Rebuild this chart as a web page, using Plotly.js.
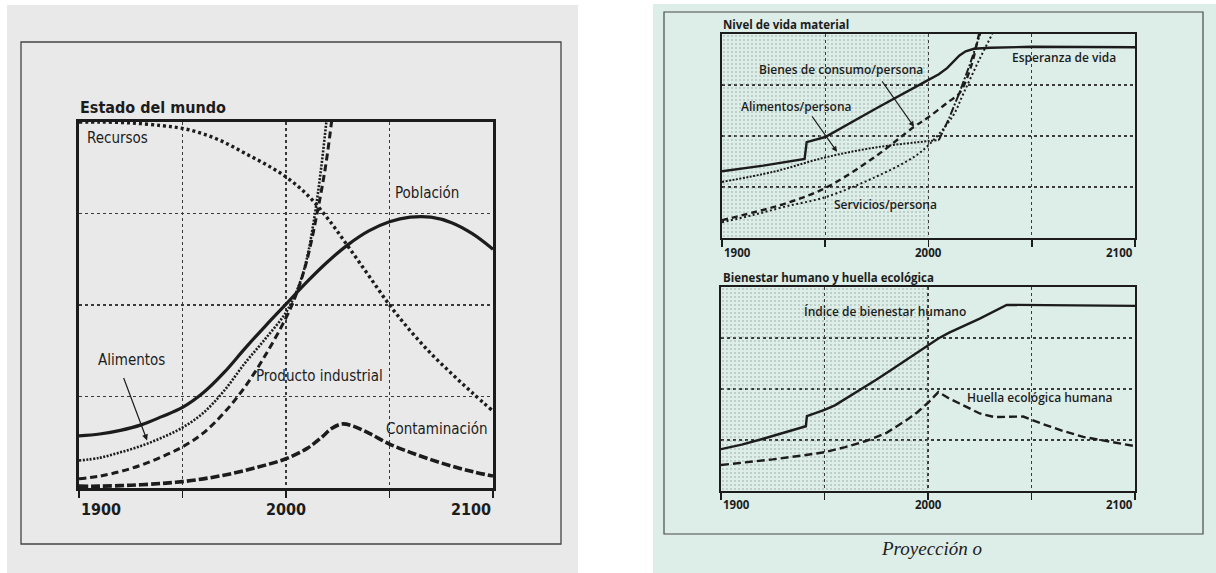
<!DOCTYPE html>
<html>
<head>
<meta charset="utf-8">
<script src="https://cdn.plot.ly/plotly-3.0.1.min.js"></script>
<style>
  html, body { margin: 0; padding: 0; background: #ffffff; }
  #chart { width: 1216px; height: 573px; }
</style>
</head>
<body>
<div id="chart"></div>
<script>
// ---------- DATA ----------
// Left panel: "Estado del mundo"
const recursosYears = [1900, 1910, 1925, 1940, 1950, 1960, 1970, 1980, 1990, 2000, 2010, 2020, 2030, 2040, 2050, 2060, 2070, 2080, 2090, 2100];
const recursosValues = [4.0, 4.0, 3.99, 3.96, 3.93, 3.87, 3.78, 3.66, 3.54, 3.40, 3.21, 2.95, 2.64, 2.32, 2.0, 1.72, 1.47, 1.25, 1.04, 0.84];

const poblacionYears = [1900, 1910, 1920, 1930, 1940, 1950, 1960, 1970, 1980, 1990, 2000, 2010, 2020, 2030, 2040, 2050, 2060, 2070, 2080, 2090, 2100];
const poblacionValues = [0.57, 0.59, 0.63, 0.69, 0.78, 0.88, 1.04, 1.26, 1.52, 1.77, 2.01, 2.25, 2.47, 2.66, 2.81, 2.91, 2.96, 2.96, 2.90, 2.78, 2.61];

const alimentosYears = [1900, 1910, 1920, 1930, 1940, 1950, 1960, 1970, 1980, 1990, 2000, 2006, 2010, 2014, 2017, 2019.5, 2021];
const alimentosValues = [0.30, 0.33, 0.39, 0.46, 0.55, 0.66, 0.82, 1.06, 1.36, 1.63, 1.92, 2.2, 2.5, 3.0, 3.5, 4.0, 4.3];

const productoYears = [1900, 1910, 1920, 1930, 1940, 1950, 1960, 1970, 1980, 1990, 2000, 2005, 2010, 2015, 2019, 2022, 2023];
const productoValues = [0.10, 0.13, 0.18, 0.25, 0.34, 0.45, 0.60, 0.82, 1.10, 1.45, 1.86, 2.12, 2.48, 3.0, 3.5, 4.0, 4.2];

const contaminacionYears = [1900, 1910, 1925, 1940, 1950, 1960, 1970, 1980, 1990, 2000, 2010, 2017, 2022, 2027, 2032, 2040, 2050, 2060, 2070, 2080, 2090, 2100];
const contaminacionValues = [0.02, 0.02, 0.03, 0.05, 0.07, 0.10, 0.14, 0.19, 0.25, 0.32, 0.43, 0.55, 0.65, 0.70, 0.68, 0.60, 0.48, 0.39, 0.31, 0.24, 0.18, 0.13];

// Right top: "Nivel de vida material"
const esperanzaYears = [1900, 1920, 1940, 1941, 1950, 1975, 2000, 2005, 2009, 2012, 2015, 2018, 2022, 2030, 2050, 2100];
const esperanzaValues = [1.31, 1.42, 1.55, 1.88, 1.98, 2.55, 3.10, 3.21, 3.33, 3.45, 3.58, 3.66, 3.71, 3.73, 3.75, 3.74];

const alimentosPersonaYears = [1900, 1925, 1950, 1975, 2000, 2005, 2010, 2015, 2020, 2025, 2026];
const alimentosPersonaValues = [1.10, 1.30, 1.58, 1.78, 1.90, 1.92, 2.35, 2.85, 3.40, 4.0, 4.15];
const alimentosPersonaBreak = 2005;

const bienesYears = [1900, 1915, 1931, 1950, 1974, 1993, 2000, 2010, 2015, 2020.5, 2024.5, 2025.5];
const bienesValues = [0.35, 0.50, 0.68, 0.98, 1.59, 2.18, 2.37, 2.68, 2.84, 3.35, 4.0, 4.15];

const serviciosYears = [1900, 1915, 1931, 1950, 1974, 1993, 2000, 2011.6, 2017, 2024.5, 2030.8, 2032];
const serviciosValues = [0.31, 0.45, 0.62, 0.80, 1.19, 1.59, 1.82, 2.38, 2.84, 3.49, 4.0, 4.12];

// Right bottom: "Bienestar humano y huella ecológica"
const indiceYears = [1900, 1910, 1920, 1930, 1941, 1941.5, 1950, 1955, 1962, 1970, 1975, 1982, 1988, 1995, 2000, 2005, 2010, 2025, 2038, 2100];
const indiceValues = [0.82, 0.91, 1.02, 1.14, 1.27, 1.47, 1.59, 1.68, 1.85, 2.05, 2.18, 2.37, 2.53, 2.72, 2.86, 2.99, 3.10, 3.38, 3.65, 3.63];

const huellaYears = [1900, 1912, 1925, 1940, 1950, 1960, 1970, 1980, 1990, 1995, 2000, 2005, 2010, 2015, 2020, 2025, 2032, 2040, 2046, 2055, 2065, 2075, 2090, 2100];
const huellaValues = [0.51, 0.56, 0.62, 0.70, 0.76, 0.86, 0.98, 1.14, 1.40, 1.55, 1.73, 1.94, 1.82, 1.72, 1.62, 1.52, 1.45, 1.45, 1.46, 1.32, 1.18, 1.06, 0.95, 0.88];

// Axis ticks
const gridYears = [1900, 1950, 2000, 2050, 2100];
const tickYears = [1900, 2000, 2100];
const tickLabels = ['1900', '2000', '2100'];
const gridLevels = [1, 2, 3];
const yearRange = [1900, 2100];
const levelRange = [0, 4];

// Stippled historical region (right panels)
const stippleX = [1900, 2000, 2000, 1900];
const stippleY = [0, 0, 4, 4];

// ---------- HELPERS ----------
const W = 1216, H = 573;
const px = v => v / W;
const py = v => 1 - v / H;
const INK = '#1c1c1c';
const COND = '"DejaVu Sans Condensed", "Liberation Sans Narrow", "Liberation Sans", sans-serif';
const SANS = '"Open Sans", "Noto Sans", sans-serif';

function line(x, y, xa, ya, dash, width, shape) {
  return { x, y, xaxis: xa, yaxis: ya, type: 'scatter', mode: 'lines',
    line: { color: INK, width, dash, shape: shape || 'spline', smoothing: 1 },
    hoverinfo: 'skip', showlegend: false };
}

// split alimentos/persona at break year
const apIdx = alimentosPersonaYears.indexOf(alimentosPersonaBreak);
const apX1 = alimentosPersonaYears.slice(0, apIdx + 1), apY1 = alimentosPersonaValues.slice(0, apIdx + 1);
const apX2 = alimentosPersonaYears.slice(apIdx), apY2 = alimentosPersonaValues.slice(apIdx);

const stipple = (xa, ya) => ({
  x: stippleX, y: stippleY, xaxis: xa, yaxis: ya, type: 'scatter', mode: 'none',
  fill: 'toself', fillcolor: 'rgba(0,0,0,0)',
  fillpattern: { shape: '.', size: 4, solidity: 0.1, fgcolor: '#8d9d97', bgcolor: 'rgba(0,0,0,0)' },
  hoverinfo: 'skip', showlegend: false
});

const traces = [
  stipple('x2', 'y2'),
  stipple('x3', 'y3'),
  // left
  line(recursosYears, recursosValues, 'x', 'y', '3px,3px', 3.4),
  line(poblacionYears, poblacionValues, 'x', 'y', 'solid', 3.2),
  line(alimentosYears, alimentosValues, 'x', 'y', '2px,1.5px', 2.6),
  line(productoYears, productoValues, 'x', 'y', '7px,4px', 3),
  line(contaminacionYears, contaminacionValues, 'x', 'y', '9px,3px', 3.6),
  // right top
  line(esperanzaYears, esperanzaValues, 'x2', 'y2', 'solid', 2.4, 'linear'),
  line(apX1, apY1, 'x2', 'y2', '2px,1.5px', 2),
  line(apX2, apY2, 'x2', 'y2', '8px,2px,2px,2px', 2, 'linear'),
  line(bienesYears, bienesValues, 'x2', 'y2', '6px,4px', 2.4),
  line(serviciosYears, serviciosValues, 'x2', 'y2', '2px,2.5px', 2),
  // right bottom
  line(indiceYears, indiceValues, 'x3', 'y3', 'solid', 2.4, 'linear'),
  line(huellaYears, huellaValues, 'x3', 'y3', '8px,4px', 2.4, 'linear')
];

function xax(domain, lw, anchor) {
  return { domain, anchor, range: yearRange, tickvals: gridYears, showticklabels: false,
    ticks: 'outside', ticklen: 7, tickwidth: 1.6, tickcolor: INK,
    showgrid: true, gridcolor: '#3a3a3a', griddash: 'dot', gridwidth: 1.2,
    showline: true, linecolor: INK, linewidth: lw, mirror: true, zeroline: false, fixedrange: true };
}
function yax(domain, anchor, lw) {
  return { domain, range: levelRange, tickvals: gridLevels, showticklabels: false, ticks: '',
    anchor, showgrid: true, gridcolor: '#3a3a3a', griddash: 'dot', gridwidth: 1.2,
    showline: true, linecolor: INK, linewidth: lw, mirror: true, zeroline: false, fixedrange: true };
}

const annotations = [];
function txt(text, x, y, xref, yref, size, family, opts, weight) {
  annotations.push(Object.assign({ text, x, y, xref, yref, showarrow: false,
    font: { family, size, color: INK, weight: weight || 'normal' }, xanchor: 'center', yanchor: 'middle' }, opts || {}));
}
// titles
txt('Estado del mundo', px(78), py(107), 'paper', 'paper', 16, COND, { xanchor: 'left' }, 'bold');
txt('Nivel de vida material', px(721), py(24), 'paper', 'paper', 11.5, SANS, { xanchor: 'left' }, 'bold');
txt('Bienestar humano y huella ecológica', px(721), py(277), 'paper', 'paper', 11.5, SANS, { xanchor: 'left' }, 'bold');
// tick labels
const anchors = ['left', 'center', 'right'];
tickYears.forEach((yr, i) => {
  txt(tickLabels[i], yr, py(509), 'x', 'paper', 16, COND, { xanchor: anchors[i] }, 'bold');
  txt(tickLabels[i], yr, py(252), 'x2', 'paper', 11.5, SANS, { xanchor: anchors[i] }, 'bold');
  txt(tickLabels[i], yr, py(504), 'x3', 'paper', 11.5, SANS, { xanchor: anchors[i] }, 'bold');
});
// left labels
const LS = 15;
txt('Recursos', 1918.8, 3.83, 'x', 'y', LS, COND);
txt('Población', 2068, 3.22, 'x', 'y', LS, COND);
txt('Alimentos', 1925.6, 1.40, 'x', 'y', LS, COND);
txt('Producto industrial', 2016.4, 1.22, 'x', 'y', LS, COND);
txt('Contaminación', 2073, 0.64, 'x', 'y', LS, COND);
annotations.push({ x: 1932.9, y: 0.52, xref: 'x', yref: 'y', ax: -24, ay: -64, showarrow: true,
  arrowhead: 2, arrowsize: 1, arrowwidth: 1.2, arrowcolor: INK, text: '', standoff: 0 });
// right top labels
const RS = 12;
txt('Esperanza de vida', 2065.6, 3.53, 'x2', 'y2', RS, SANS, null, 600);
txt('Bienes de consumo/persona', 1957.6, 3.31, 'x2', 'y2', RS, SANS, null, 600);
txt('Alimentos/persona', 1936.3, 2.57, 'x2', 'y2', RS, SANS, null, 600);
txt('Servicios/persona', 1979.4, 0.65, 'x2', 'y2', RS, SANS, null, 600);
annotations.push({ x: 1993, y: 2.18, xref: 'x2', yref: 'y2', ax: -33, ay: -47, showarrow: true,
  arrowhead: 2, arrowsize: 1, arrowwidth: 1.1, arrowcolor: INK, text: '', standoff: 0 });
annotations.push({ x: 1955.7, y: 1.69, xref: 'x2', yref: 'y2', ax: -26, ay: -37, showarrow: true,
  arrowhead: 2, arrowsize: 1, arrowwidth: 1.1, arrowcolor: INK, text: '', standoff: 0 });
// right bottom labels
txt('Índice de bienestar humano', 1979, 3.51, 'x3', 'y3', RS, SANS, null, 600);
txt('Huella ecológica humana', 2054, 1.84, 'x3', 'y3', RS, SANS, null, 600);
// caption
annotations.push({ text: 'Proyección o', x: px(931), y: py(548), xref: 'paper', yref: 'paper', showarrow: false,
  xanchor: 'center', yanchor: 'middle',
  font: { family: '"Liberation Serif", "DejaVu Serif", serif', size: 19, color: INK, style: 'italic' } });

const shapes = [
  { type: 'rect', xref: 'paper', yref: 'paper', x0: px(7), x1: px(578), y0: py(573), y1: py(5),
    fillcolor: '#e9e9e9', line: { width: 0 }, layer: 'below' },
  { type: 'rect', xref: 'paper', yref: 'paper', x0: px(653), x1: px(1216), y0: py(573), y1: py(4),
    fillcolor: '#ddede7', line: { width: 0 }, layer: 'below' },
  { type: 'rect', xref: 'paper', yref: 'paper', x0: px(21), x1: px(561), y0: py(544), y1: py(42),
    line: { color: '#444', width: 1.3 }, layer: 'below' },
  { type: 'rect', xref: 'paper', yref: 'paper', x0: px(664), x1: px(1203), y0: py(534), y1: py(12),
    line: { color: '#4a4a4a', width: 1.2 }, layer: 'below' }
];

const layout = {
  width: W, height: H,
  margin: { l: 0, r: 0, t: 0, b: 0, pad: 0 },
  paper_bgcolor: '#ffffff', plot_bgcolor: 'rgba(0,0,0,0)',
  showlegend: false,
  xaxis: xax([px(79), px(493)], 2.6, 'y'),
  yaxis: yax([py(488), py(122)], 'x', 2.6),
  xaxis2: xax([px(722), px(1135)], 2, 'y2'),
  yaxis2: yax([py(238), py(34)], 'x2', 2),
  xaxis3: xax([px(721), px(1135)], 2, 'y3'),
  yaxis3: yax([py(491), py(287)], 'x3', 2),
  annotations, shapes
};

Plotly.newPlot('chart', traces, layout, { staticPlot: true, displayModeBar: false });
</script>
</body>
</html>
